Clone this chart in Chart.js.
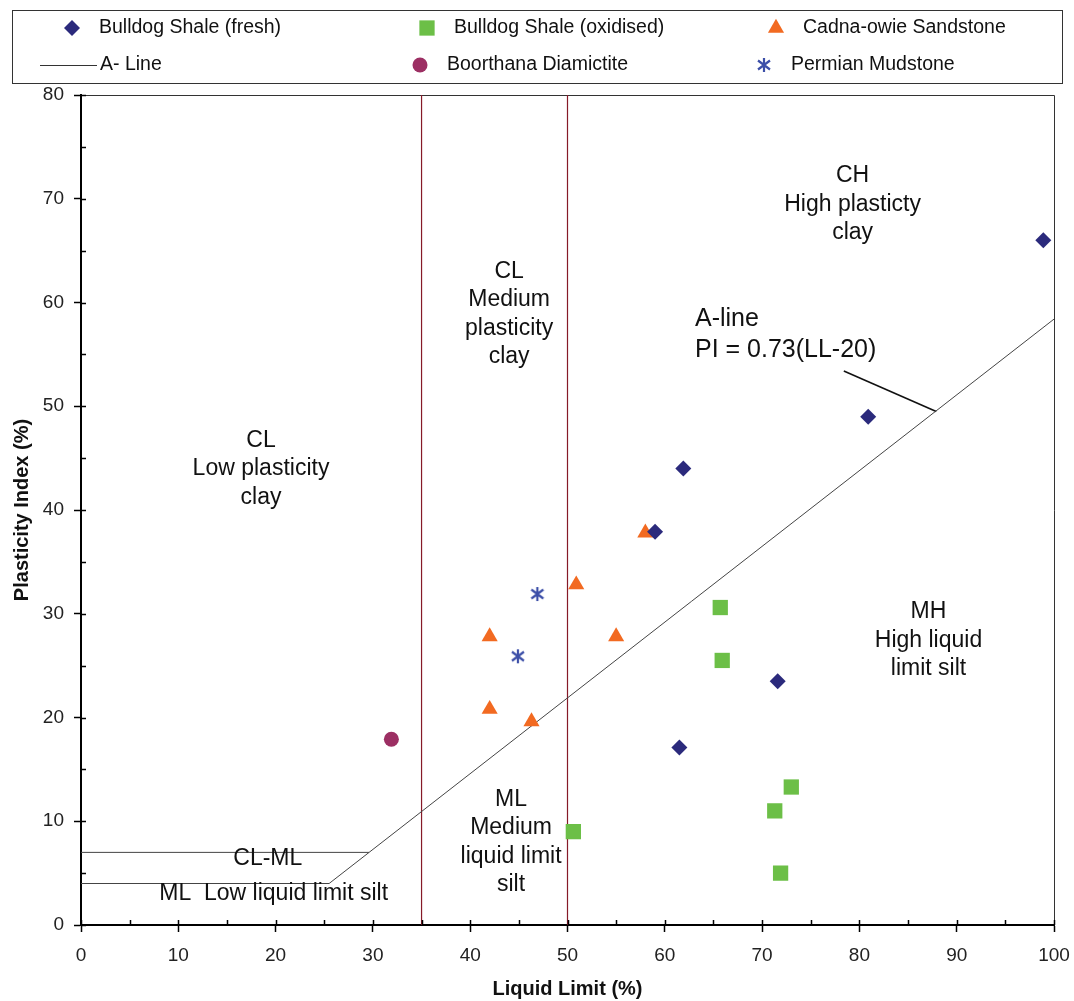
<!DOCTYPE html>
<html>
<head>
<meta charset="utf-8">
<script src="https://cdn.jsdelivr.net/npm/chart.js@4/dist/chart.umd.min.js"></script>
<style>
html, body { margin: 0; padding: 0; background: #fff; }
canvas { display: block; }
</style>
</head>
<body>
<canvas id="chart" width="1074" height="1001"></canvas>
<script>
// values
const freshLL = [98.9, 80.9, 61.9, 59.0, 71.6, 61.5];
const freshPI = [66.0, 49.0, 44.0, 37.9, 23.5, 17.1];
const oxLL = [65.7, 65.9, 73.0, 71.3, 50.6, 71.9];
const oxPI = [30.6, 25.5, 13.3, 11.0, 9.0, 5.0];
const cadLL = [58.0, 50.9, 42.0, 55.0, 42.0, 46.3];
const cadPI = [37.8, 32.8, 27.8, 27.8, 20.8, 19.6];
const booLL = [31.9];
const booPI = [17.9];
const permLL = [46.9, 44.9];
const permPI = [31.9, 25.9];
const aLineLL = [0, 25.5, 100];
const aLinePI = [4, 4, 58.4];
const clmlLL = [0, 29.6];
const clmlPI = [7, 7];
const boundLL = [35, 50];
const leaderLL = [78.4, 87.9];
const leaderPI = [53.4, 49.5];
const xTicks = [0, 10, 20, 30, 40, 50, 60, 70, 80, 90, 100];
const yTicks = [0, 10, 20, 30, 40, 50, 60, 70, 80];

const FONT = "'Liberation Sans', Arial, sans-serif";

function pts(xs, ys) { return xs.map((x, i) => ({x: x, y: ys[i]})); }

function starCanvas(color) {
  const c = document.createElement('canvas');
  c.width = 16; c.height = 16;
  const g = c.getContext('2d');
  g.strokeStyle = color; g.lineWidth = 2.2;
  g.beginPath();
  g.moveTo(8, 1); g.lineTo(8, 15);
  g.moveTo(2, 3.5); g.lineTo(14, 12.5);
  g.moveTo(14, 3.5); g.lineTo(2, 12.5);
  g.stroke();
  return c;
}
const star = starCanvas('#3c4fa8');

const datasets = [
  {label: 'Bulldog Shale (fresh)', data: pts(freshLL, freshPI), pointStyle: 'rectRot', pointRadius: 8,
   backgroundColor: '#2b2a7c', borderColor: '#2b2a7c', borderWidth: 0},
  {label: 'Bulldog Shale (oxidised)', data: pts(oxLL, oxPI), pointStyle: 'rect', pointRadius: 10.8,
   backgroundColor: '#6cbf47', borderColor: '#6cbf47', borderWidth: 0},
  {label: 'Cadna-owie Sandstone', data: pts(cadLL, cadPI), pointStyle: 'triangle', pointRadius: 9.3,
   backgroundColor: '#f26a21', borderColor: '#f26a21', borderWidth: 0},
  {label: 'A- Line', data: pts(aLineLL, aLinePI), showLine: true, pointRadius: 0,
   borderColor: '#444', borderWidth: 1, legendLine: true},
  {label: 'Boorthana Diamictite', data: pts(booLL, booPI), pointStyle: 'circle', pointRadius: 7.5,
   backgroundColor: '#9c2f63', borderColor: '#9c2f63', borderWidth: 0},
  {label: 'Permian Mudstone', data: pts(permLL, permPI), pointStyle: star, pointRadius: 8,
   backgroundColor: '#3c4fa8', borderColor: '#3c4fa8'},
  {label: 'CL-ML', data: pts(clmlLL, clmlPI), showLine: true, pointRadius: 0,
   borderColor: '#444', borderWidth: 1, hideLegend: true},
  {label: 'LL 35', data: pts([boundLL[0], boundLL[0]], [0, 80]), showLine: true, pointRadius: 0,
   borderColor: '#861a28', borderWidth: 1.2, hideLegend: true},
  {label: 'LL 50', data: pts([boundLL[1], boundLL[1]], [0, 80]), showLine: true, pointRadius: 0,
   borderColor: '#861a28', borderWidth: 1.2, hideLegend: true},
  {label: 'leader', data: pts(leaderLL, leaderPI), showLine: true, pointRadius: 0,
   borderColor: '#111', borderWidth: 1.6, hideLegend: true}
];

// zone labels: data position of first line, then lines below
const notes = [
  {x: 79.3, y: 72.2, lines: ['CH', 'High plasticty', 'clay']},
  {x: 44.0, y: 63.0, lines: ['CL', 'Medium', 'plasticity', 'clay']},
  {x: 18.5, y: 46.7, lines: ['CL', 'Low plasticity', 'clay']},
  {x: 87.1, y: 30.2, lines: ['MH', 'High liquid', 'limit silt']},
  {x: 44.2, y: 12.1, lines: ['ML', 'Medium', 'liquid limit', 'silt']},
  {x: 19.2, y: 6.4, lines: ['CL-ML']},
  {x: 19.8, y: 3.0, lines: ['ML  Low liquid limit silt']},
  {x: 63.1, y: 58.4, lines: ['A-line', 'PI = 0.73(LL-20)'], align: 'left', gap: 31, size: 25}
];

const legendPos = [[72, 28], [427, 28], [776, 28], [40, 65], [420, 65], [764, 65]];

const extras = {
  id: 'extras',
  beforeDatasetsDraw(chart) {
    const ctx = chart.ctx, a = chart.chartArea;
    ctx.save();
    ctx.strokeStyle = '#333'; ctx.lineWidth = 1;
    ctx.beginPath();
    ctx.moveTo(a.left, a.top + 0.5); ctx.lineTo(a.right + 0.5, a.top + 0.5);
    ctx.lineTo(a.right + 0.5, a.bottom);
    ctx.stroke();
    ctx.restore();
  },
  afterDatasetsDraw(chart) {
    const ctx = chart.ctx, xs = chart.scales.x, ys = chart.scales.y;
    ctx.save();
    ctx.fillStyle = '#111';
    ctx.textBaseline = 'middle';
    notes.forEach(n => {
      ctx.font = (n.size || 23) + 'px ' + FONT;
      ctx.textAlign = n.align || 'center';
      const px = xs.getPixelForValue(n.x), py = ys.getPixelForValue(n.y);
      n.lines.forEach((t, i) => ctx.fillText(t, px, py + i * (n.gap || 28.5)));
    });
    ctx.restore();
  },
  afterDraw(chart) {
    const ctx = chart.ctx, xs = chart.scales.x, ys = chart.scales.y, a = chart.chartArea;
    ctx.save();
    // inner tick marks (major and minor)
    ctx.strokeStyle = '#000'; ctx.lineWidth = 1.5;
    ctx.beginPath();
    for (let v = 0; v <= 100; v += 5) {
      const p = Math.round(xs.getPixelForValue(v)) + 0.5;
      ctx.moveTo(p, a.bottom); ctx.lineTo(p, a.bottom - 5);
    }
    for (let v = 0; v <= 80; v += 5) {
      const p = Math.round(ys.getPixelForValue(v)) + 0.5;
      ctx.moveTo(a.left, p); ctx.lineTo(a.left + 5, p);
    }
    ctx.stroke();
    // legend box
    ctx.strokeStyle = '#333'; ctx.lineWidth = 1;
    ctx.strokeRect(12.5, 10.5, 1050, 73);
    ctx.font = '19.5px ' + FONT;
    ctx.textAlign = 'left'; ctx.textBaseline = 'middle';
    const items = chart.data.datasets.filter(d => !d.hideLegend);
    items.forEach((d, i) => {
      const [lx, ly] = legendPos[i];
      if (d.legendLine) {
        ctx.strokeStyle = '#333'; ctx.lineWidth = 1;
        ctx.beginPath(); ctx.moveTo(lx, ly + 0.5); ctx.lineTo(lx + 57, ly + 0.5); ctx.stroke();
        ctx.fillStyle = '#111';
        ctx.fillText(d.label, lx + 60, ly);
        return;
      }
      ctx.fillStyle = d.backgroundColor; ctx.strokeStyle = d.borderColor;
      Chart.helpers.drawPoint(ctx, {pointStyle: d.pointStyle, radius: d.pointRadius, rotation: 0, borderWidth: 0}, lx, ly);
      ctx.fillStyle = '#111';
      ctx.fillText(d.label, lx + 27, ly);
    });
    ctx.restore();
  }
};

new Chart(document.getElementById('chart'), {
  type: 'scatter',
  data: {datasets: datasets},
  options: {
    responsive: false,
    animation: false,
    devicePixelRatio: 1,
    layout: {padding: {top: 95, right: 20, left: 0, bottom: 0}},
    plugins: {legend: {display: false}, tooltip: {enabled: false}},
    scales: {
      x: {
        type: 'linear', min: 0, max: 100,
        afterBuildTicks: s => { s.ticks = xTicks.map(v => ({value: v})); },
        afterFit: s => { s.height = 76; s.paddingRight = 0; s.paddingLeft = 0; },
        ticks: {font: {family: FONT, size: 19}, color: '#222', padding: 12, maxRotation: 0},
        grid: {drawOnChartArea: false, tickLength: 7, tickColor: '#000', tickWidth: 1.5},
        border: {color: '#000', width: 2},
        title: {display: true, text: 'Liquid Limit (%)', color: '#111',
                font: {family: FONT, size: 20, weight: 'bold', lineHeight: 1.2}, padding: {top: 0, bottom: 0}}
      },
      y: {
        type: 'linear', min: 0, max: 80,
        afterBuildTicks: s => { s.ticks = yTicks.map(v => ({value: v})); },
        afterFit: s => { s.width = 81; s.paddingTop = 0; s.paddingBottom = 0; },
        ticks: {font: {family: FONT, size: 19}, color: '#222', padding: 10},
        grid: {drawOnChartArea: false, tickLength: 7, tickColor: '#000', tickWidth: 1.5},
        border: {color: '#000', width: 2},
        title: {display: true, text: 'Plasticity Index (%)', color: '#111',
                font: {family: FONT, size: 20, weight: 'bold', lineHeight: 1.2}, padding: {top: 10, bottom: 0}}
      }
    }
  },
  plugins: [extras]
});
</script>
</body>
</html>
